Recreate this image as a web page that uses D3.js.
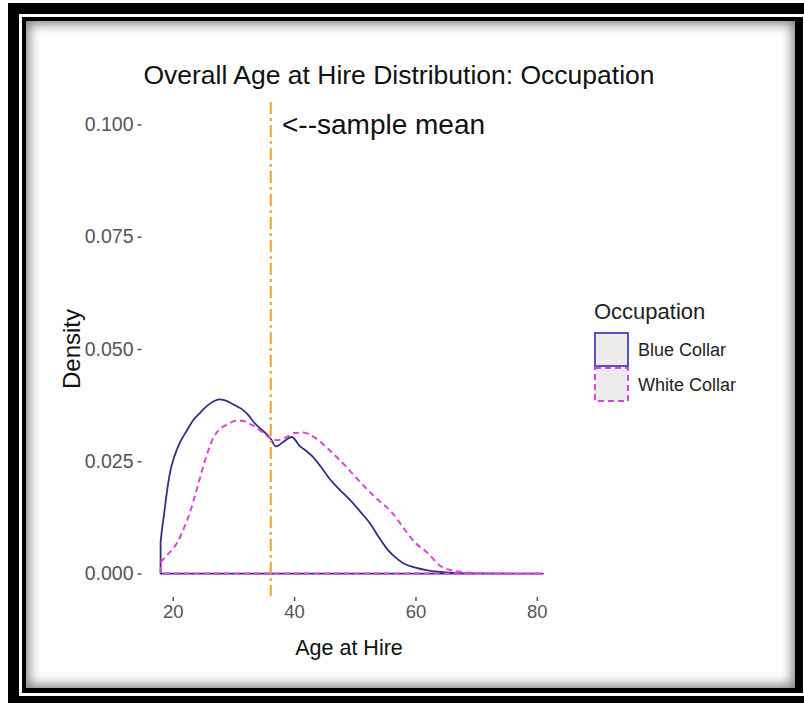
<!DOCTYPE html>
<html>
<head>
<meta charset="utf-8">
<script src="https://cdn.jsdelivr.net/npm/d3@7"></script>
<style>
  html, body { margin: 0; padding: 0; background: #fff; }
  body { width: 804px; height: 703px; position: relative; overflow: hidden; }
  .outer { position: absolute; left: 8px; top: 3px; width: 800px; height: 704px; background: #000; }
  .gap { position: absolute; left: 19px; top: 14px; width: 790px; height: 682px; background: #fff; }
  .inner { position: absolute; left: 22px; top: 17px; width: 781px; height: 676px; background: #000; }
  .panel { position: absolute; left: 26px; top: 21px; width: 769px; height: 667px; background: #fff;
           box-shadow: inset 0 0 12px 3px rgba(0,0,0,0.5); }
  svg { position: absolute; left: 0; top: 0; }
</style>
</head>
<body>
<div class="outer"></div>
<div class="gap"></div>
<div class="inner"></div>
<div class="panel"></div>
<svg id="chart" width="804" height="703"></svg>
<script>
// ---- data ----
const seriesNames = ["Blue Collar", "White Collar"];
const blueAge = [18.0, 18.2, 18.5, 19.0, 19.6, 20.3, 21.2, 22.3, 23.4, 24.5, 25.7, 26.7, 27.6, 28.5, 29.4, 30.5, 31.6, 32.5, 33.3, 34.6, 36.0, 37.0, 38.2, 39.6, 41.0, 42.0, 43.1, 44.5, 45.9, 47.5, 49.2, 50.9, 52.5, 54.0, 55.3, 56.7, 58.0, 60.0, 62.0, 64.5, 67.0, 70.0, 75.0, 81.0];
const blueDensity = [0.0070, 0.0095, 0.0125, 0.0178, 0.0228, 0.0262, 0.0292, 0.0318, 0.0342, 0.0358, 0.0374, 0.0383, 0.0388, 0.0386, 0.0381, 0.0373, 0.0364, 0.0352, 0.0338, 0.0321, 0.0303, 0.0283, 0.0293, 0.0304, 0.0283, 0.0273, 0.0260, 0.0236, 0.0210, 0.0187, 0.0164, 0.0138, 0.0112, 0.0080, 0.0055, 0.0036, 0.0023, 0.0013, 0.0007, 0.0003, 0.0001, 0.00005, 0.0, 0.0];
const whiteAge = [18.0, 19.0, 20.0, 20.8, 21.8, 22.8, 23.8, 24.8, 25.8, 26.8, 27.8, 29.0, 30.5, 31.5, 32.5, 33.5, 34.8, 36.0, 37.2, 38.6, 40.0, 41.5, 42.8, 44.0, 45.5, 47.5, 50.0, 52.0, 54.0, 56.0, 58.0, 60.0, 62.0, 64.0, 66.0, 68.0, 70.0, 73.0, 81.0];
const whiteDensity = [0.0025, 0.0040, 0.0055, 0.0070, 0.0100, 0.0135, 0.0180, 0.0228, 0.0272, 0.0305, 0.0322, 0.0332, 0.0340, 0.0340, 0.0334, 0.0328, 0.0314, 0.0302, 0.0297, 0.0303, 0.0313, 0.0314, 0.0308, 0.0297, 0.0279, 0.0253, 0.0217, 0.0188, 0.0162, 0.0138, 0.0102, 0.0068, 0.0046, 0.0018, 0.0007, 0.0003, 0.0001, 0.0, 0.0];
const sampleMean = 36.15;
const xTicks = [20, 40, 60, 80];
const yTicks = [0, 0.025, 0.05, 0.075, 0.1];
const yTickLabels = ["0.000", "0.025", "0.050", "0.075", "0.100"];

// ---- styles ----
const colors = ["#332f7e", "#dd44dd"];
const dashes = [null, "6,4"];
const font = "'Liberation Sans', Arial, sans-serif";

const svg = d3.select("#chart");
const x = d3.scaleLinear().domain([14.85, 84.15]).range([141.5, 562]);
const y = d3.scaleLinear().domain([-0.005, 0.105]).range([596, 102]);

const series = [
  blueAge.map((a, i) => ({age: a, d: blueDensity[i]})),
  whiteAge.map((a, i) => ({age: a, d: whiteDensity[i]}))
];

const area = d3.area()
  .x(p => x(p.age)).y0(y(0)).y1(p => y(p.d))
  .curve(d3.curveMonotoneX);

series.forEach((s, i) => {
  svg.append("path").datum(s)
    .attr("d", area)
    .attr("fill", "none")
    .attr("stroke", colors[i])
    .attr("stroke-width", i === 0 ? 1.8 : 2)
    .attr("stroke-dasharray", dashes[i])
    .attr("stroke-linejoin", "round");
});

// mean line
svg.append("line")
  .attr("x1", x(sampleMean)).attr("x2", x(sampleMean))
  .attr("y1", y(0.105)).attr("y2", y(-0.005))
  .attr("stroke", "#f0a02c").attr("stroke-width", 2)
  .attr("stroke-dasharray", "12,4,3,4");

// annotation
svg.append("text")
  .attr("x", 282).attr("y", y(0.1))
  .attr("dy", "0.35em")
  .attr("text-anchor", "start")
  .attr("font-family", font).attr("font-size", 28)
  .attr("fill", "#111")
  .text("<--sample mean");

// axes
const xAxis = d3.axisBottom(x).tickValues(xTicks).tickSize(4).tickPadding(4);
const gx = svg.append("g").attr("transform", `translate(0,${y(-0.005) + 1})`).call(xAxis);
gx.select(".domain").remove();
gx.selectAll(".tick line").attr("stroke", "#555").attr("stroke-width", 1.5);
gx.selectAll(".tick text").attr("font-family", font).attr("font-size", 18.5).attr("fill", "#555");

const yAxis = d3.axisLeft(y).tickValues(yTicks).tickFormat((d, i) => yTickLabels[i]).tickSize(4).tickPadding(4);
const gy = svg.append("g").attr("transform", `translate(${x(14.85)},0)`).call(yAxis);
gy.select(".domain").remove();
gy.selectAll(".tick line").attr("stroke", "#555").attr("stroke-width", 1.5);
gy.selectAll(".tick text").attr("font-family", font).attr("font-size", 19.5).attr("fill", "#555");

// titles
svg.append("text")
  .attr("x", 399).attr("y", 84)
  .attr("text-anchor", "middle")
  .attr("font-family", font).attr("font-size", 26.5)
  .attr("fill", "#111")
  .text("Overall Age at Hire Distribution: Occupation");

svg.append("text")
  .attr("x", 349).attr("y", 655)
  .attr("text-anchor", "middle")
  .attr("font-family", font).attr("font-size", 21.5)
  .attr("fill", "#111")
  .text("Age at Hire");

svg.append("text")
  .attr("transform", `translate(80,349) rotate(-90)`)
  .attr("text-anchor", "middle")
  .attr("font-family", font).attr("font-size", 24)
  .attr("fill", "#111")
  .text("Density");

// legend
const lg = svg.append("g").attr("transform", "translate(594,0)");
lg.append("text").attr("x", 0).attr("y", 319)
  .attr("font-family", font).attr("font-size", 22).attr("fill", "#222")
  .text("Occupation");
seriesNames.forEach((name, i) => {
  const top = 333 + i * 35;
  lg.append("rect").attr("x", 1).attr("y", top).attr("width", 33).attr("height", 33)
    .attr("fill", "#ececec")
    .attr("stroke", i === 0 ? "#5a52b8" : colors[1])
    .attr("stroke-width", 2)
    .attr("stroke-dasharray", dashes[i]);
  lg.append("text").attr("x", 44).attr("y", top + 17).attr("dy", "0.35em")
    .attr("font-family", font).attr("font-size", 18).attr("fill", "#222")
    .text(name);
});
</script>
</body>
</html>
